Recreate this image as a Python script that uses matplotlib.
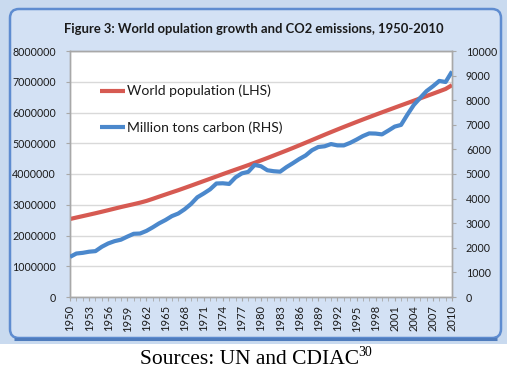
import matplotlib
matplotlib.use("Agg")
import matplotlib.pyplot as plt
from matplotlib.patches import FancyBboxPatch, Rectangle
from matplotlib.ticker import MultipleLocator, FuncFormatter

years = list(range(1950, 2011))
population = [2536, 2584, 2630, 2677, 2724, 2773, 2823, 2874, 2925, 2972,
              3019, 3068, 3124, 3192, 3264, 3334, 3404, 3473, 3546, 3620,
              3695, 3770, 3845, 3920, 3996, 4070, 4143, 4215, 4289, 4365,
              4442, 4520, 4601, 4682, 4763, 4846, 4931, 5017, 5104, 5191,
              5278, 5363, 5447, 5530, 5611, 5692, 5772, 5850, 5928, 6005,
              6081, 6157, 6233, 6308, 6383, 6459, 6535, 6611, 6688, 6766,
              6890]
population = [p * 1000 for p in population]
carbon = [1630, 1767, 1795, 1841, 1865, 2042, 2177, 2270, 2330, 2454,
          2569, 2580, 2686, 2833, 2995, 3130, 3288, 3393, 3566, 3780,
          4053, 4208, 4376, 4614, 4623, 4596, 4864, 5026, 5087, 5369,
          5315, 5152, 5113, 5094, 5280, 5439, 5607, 5752, 5965, 6097,
          6127, 6217, 6164, 6162, 6266, 6398, 6542, 6651, 6643, 6610,
          6765, 6927, 6996, 7416, 7807, 8093, 8370, 8566, 8783, 8740,
          9167]
title = "Figure 3: World opulation growth and CO2 emissions, 1950-2010"
label_pop = "World population (LHS)"
label_carbon = "Million tons carbon (RHS)"
caption = "Sources: UN and CDIAC"
caption_sup = "30"

W, H = 511, 374
fig = plt.figure(figsize=(W / 100, H / 100), dpi=100)
fig.patch.set_facecolor("white")

# background frame axes in pixel units
bg = fig.add_axes([0, 0, 1, 1], zorder=0)
bg.set_xlim(0, W)
bg.set_ylim(H, 0)
bg.axis("off")
bg.add_patch(Rectangle((0, 0), 507, 344, facecolor="#c9daef", edgecolor="none"))
bg.add_patch(FancyBboxPatch((10, 9), 491, 329, boxstyle="round,pad=0,rounding_size=9",
                            facecolor="#d3e1f4", edgecolor="#5e8cd0", linewidth=1.8))
bg.plot([14, 497], [338.5, 338.5], color="#4f7cbd", lw=2.2, solid_capstyle="butt")

L, R, T, B = 70, 452, 51, 297
ax = fig.add_axes([L / W, 1 - B / H, (R - L) / W, (B - T) / H], zorder=2)
ax.set_facecolor("white")
ax2 = ax.twinx()

red = "#d65a52"
blue = "#4b88cc"
l1, = ax.plot(years, population, color=red, lw=3.0, solid_capstyle="butt", zorder=3)
l2, = ax2.plot(years, carbon, color=blue, lw=3.0, solid_capstyle="butt", zorder=3)

ax.set_xlim(1950, 2010)
ax.set_ylim(0, 8000000)
ax2.set_ylim(0, 10000)
ax.yaxis.set_major_locator(MultipleLocator(1000000))
ax2.yaxis.set_major_locator(MultipleLocator(1000))
ax.yaxis.set_major_formatter(FuncFormatter(lambda v, p: "%d" % v))
ax2.yaxis.set_major_formatter(FuncFormatter(lambda v, p: "%d" % v))
ax.set_xticks(years[::3])
ax.set_xticks(years, minor=True)
ax.grid(axis="y", color="#d9d9d9", lw=1.0)
ax.set_axisbelow(True)

for a in (ax, ax2):
    for s in a.spines.values():
        s.set_color("#a8a8a8")
        s.set_linewidth(1.0)
ax.tick_params(axis="x", which="both", length=3, color="#a8a8a8", pad=3,
               labelrotation=90, labelsize=8.0)
ax.tick_params(axis="y", length=3, color="#a8a8a8", pad=7, labelsize=7.7)
ax2.tick_params(axis="y", length=3, color="#a8a8a8", pad=7, labelsize=7.7)
for lab in ax.get_xticklabels() + ax.get_yticklabels() + ax2.get_yticklabels():
    lab.set_fontfamily("Lato")
    lab.set_color("#1a1a1a")

leg = ax2.legend([l1, l2], [label_pop, label_carbon], loc="upper left",
                 bbox_to_anchor=(0.065, 0.885), frameon=False,
                 prop=dict(family="Lato", size=10), handlelength=1.8,
                 handletextpad=0.15, labelspacing=1.75, borderaxespad=0)
for t in leg.get_texts():
    t.set_color("#1a1a1a")

fig.text(254 / W, 1 - 29 / H, title, ha="center", va="center",
         family="Lato", weight="bold", size=9.4, color="#1a1a1a")

fig.canvas.draw()
r = fig.canvas.get_renderer()
cap = fig.text(0, 1 - 359 / H, caption, ha="left", va="center",
               family="Liberation Serif", size=15.5, color="black")
bb = cap.get_window_extent(r)
sup = fig.text(0, 1 - 352 / H, caption_sup, ha="left", va="center",
               family="Liberation Serif", size=10, color="black")
bs = sup.get_window_extent(r)
total = bb.width + bs.width
x0 = 256 - total / 2
cap.set_x(x0 / W)
sup.set_x((x0 + bb.width) / W)

fig.savefig("out.png", dpi=100, facecolor="white")
